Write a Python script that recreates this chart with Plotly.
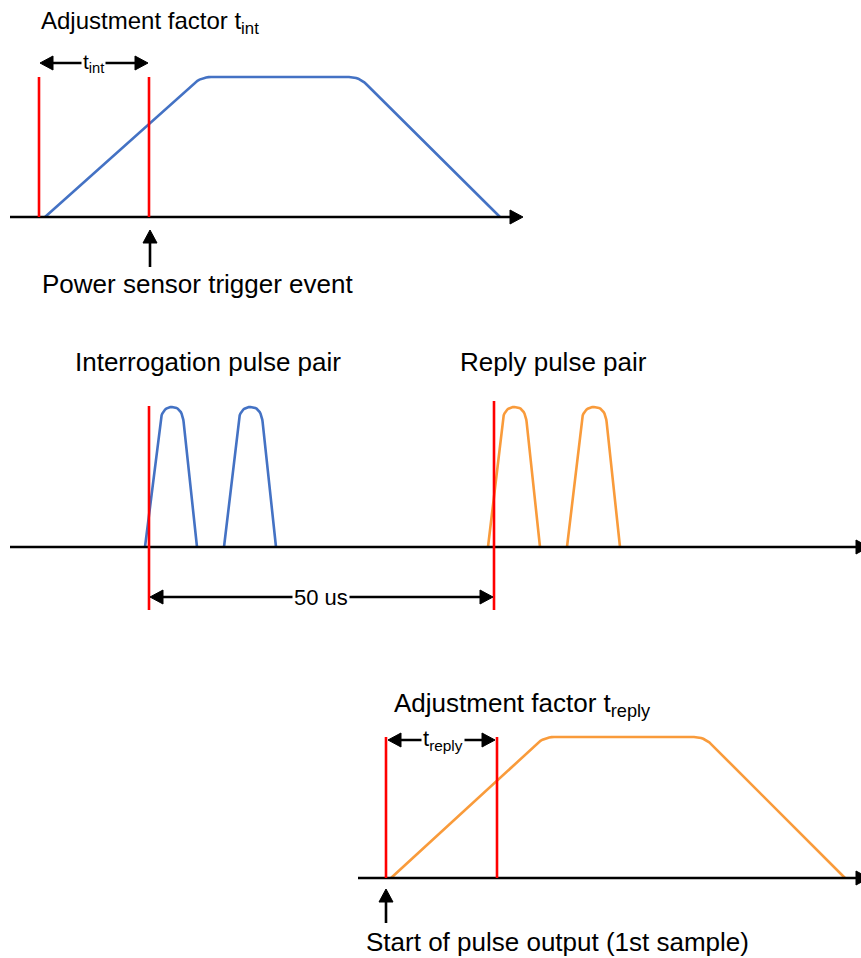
import plotly.graph_objects as go

FONT = "Liberation Sans, Arial, sans-serif"
BLUE = "#4472C4"
ORANGE = "#F99B3B"
RED = "#FF0000"
BLACK = "#000000"
WIN_W, WIN_H = 861, 958

# ---------------- data (diagram space: x to the right, y downwards) ----------------
# time axes
axis_x0 = [10, 10, 358]
axis_x1 = [523, 869, 869]
axis_y = [217, 547, 878]

# red reference markers
marker_x = [39, 149, 149, 494, 386, 497]
marker_y0 = [77, 77, 406, 401, 737, 737]
marker_y1 = [217, 217, 610, 610, 878, 878]

# measurement windows (trapezoids): base-left, top-left, top-right, base-right
ramp_names = ["t_int window", "t_reply window"]
ramp_base_left = [45, 391]
ramp_top_left = [201, 544]
ramp_top_right = [359, 704]
ramp_base_right = [500, 845]
ramp_base_y = [217, 878]
ramp_top_y = [77, 737]
ramp_colors = [BLUE, ORANGE]

# pulses: base-left, top-left, top-right, base-right
pulse_names = ["Interrogation 1", "Interrogation 2", "Reply 1", "Reply 2"]
pulse_base_left = [145, 224, 488, 567]
pulse_top_left = [162, 240, 504, 583]
pulse_top_right = [182, 261, 525, 605]
pulse_base_right = [197, 276, 540, 620]
pulse_base_y = [547, 547, 547, 547]
pulse_top_y = [407, 407, 407, 407]
pulse_colors = [BLUE, BLUE, ORANGE, ORANGE]

# dimension (double-headed) arrows
dim_x0 = [40, 150, 388]
dim_x1 = [148, 493, 495]
dim_y = [63, 597, 740]
dim_labels = ["t<sub>int</sub>", "50 us", "t<sub>reply</sub>"]
dim_label_x = [93, 321, 443]
dim_label_size = [21, 22, 22]

# event arrows (pointing up)
up_x = [150, 386]
up_tip_y = [230, 889]
up_tail_y = [267, 923]

# text labels
label_text = [
    "Adjustment factor t<sub>int</sub>",
    "Power sensor trigger event",
    "Interrogation pulse pair",
    "Reply pulse pair",
    "Adjustment factor t<sub>reply</sub>",
    "Start of pulse output (1st sample)",
]
label_x = [39, 40, 73, 458, 392, 364]
label_y = [22, 284, 362, 362, 704, 942]
label_size = [24, 26, 26, 26, 26, 26]

# ---------------- helpers (styling only) ----------------
HEAD_LEN = 13
HEAD_HALF = 7
LW = 2.6


def rounded_path(pts, radius, n=8):
    """Polyline through pts with the interior corners rounded."""
    xs, ys = [pts[0][0]], [pts[0][1]]
    for i in range(1, len(pts) - 1):
        (ax, ay), (px, py), (bx, by) = pts[i - 1], pts[i], pts[i + 1]
        la = ((px - ax) ** 2 + (py - ay) ** 2) ** 0.5
        lb = ((bx - px) ** 2 + (by - py) ** 2) ** 0.5
        r1 = min(radius, la / 2)
        r2 = min(radius, lb / 2)
        sx, sy = px - (px - ax) / la * r1, py - (py - ay) / la * r1
        ex, ey = px + (bx - px) / lb * r2, py + (by - py) / lb * r2
        for k in range(n + 1):
            t = k / n
            xs.append((1 - t) ** 2 * sx + 2 * (1 - t) * t * px + t ** 2 * ex)
            ys.append((1 - t) ** 2 * sy + 2 * (1 - t) * t * py + t ** 2 * ey)
    xs.append(pts[-1][0])
    ys.append(pts[-1][1])
    return xs, ys


def head(tx, ty, direction):
    if direction == "right":
        return [tx, tx - HEAD_LEN, tx - HEAD_LEN, tx], [ty, ty - HEAD_HALF, ty + HEAD_HALF, ty]
    if direction == "left":
        return [tx, tx + HEAD_LEN, tx + HEAD_LEN, tx], [ty, ty - HEAD_HALF, ty + HEAD_HALF, ty]
    return [tx, tx - HEAD_HALF, tx + HEAD_HALF, tx], [ty, ty + HEAD_LEN, ty + HEAD_LEN, ty]


fig = go.Figure()


def line(xs, ys, color, width=LW, name=""):
    fig.add_trace(go.Scatter(x=xs, y=ys, mode="lines", name=name,
                             line=dict(color=color, width=width),
                             hoverinfo="skip"))


def filled(xs, ys, color=BLACK):
    fig.add_trace(go.Scatter(x=xs, y=ys, mode="lines", fill="toself",
                             fillcolor=color, line=dict(color=color, width=1),
                             hoverinfo="skip"))


# windows
for i in range(len(ramp_names)):
    pts = [(ramp_base_left[i], ramp_base_y[i]), (ramp_top_left[i], ramp_top_y[i]),
           (ramp_top_right[i], ramp_top_y[i]), (ramp_base_right[i], ramp_base_y[i])]
    xs, ys = rounded_path(pts, 10)
    line(xs, ys, ramp_colors[i], name=ramp_names[i])

# pulses
for i in range(len(pulse_names)):
    pts = [(pulse_base_left[i], pulse_base_y[i]), (pulse_top_left[i], pulse_top_y[i]),
           (pulse_top_right[i], pulse_top_y[i]), (pulse_base_right[i], pulse_base_y[i])]
    xs, ys = rounded_path(pts, 15, n=12)
    line(xs, ys, pulse_colors[i], name=pulse_names[i])

# time axes
for i in range(len(axis_y)):
    line([axis_x0[i], axis_x1[i] - HEAD_LEN + 1], [axis_y[i], axis_y[i]], BLACK)
    hx, hy = head(axis_x1[i], axis_y[i], "right")
    filled(hx, hy)

# red markers
for i in range(len(marker_x)):
    line([marker_x[i], marker_x[i]], [marker_y0[i], marker_y1[i]], RED, width=2.6)

# dimension arrows
for i in range(len(dim_y)):
    line([dim_x0[i] + HEAD_LEN - 1, dim_x1[i] - HEAD_LEN + 1], [dim_y[i], dim_y[i]], BLACK, width=2.4)
    hx, hy = head(dim_x0[i], dim_y[i], "left")
    filled(hx, hy)
    hx, hy = head(dim_x1[i], dim_y[i], "right")
    filled(hx, hy)
    fig.add_annotation(x=dim_label_x[i], y=dim_y[i], text=dim_labels[i], showarrow=False,
                       xanchor="center", yanchor="middle", bgcolor="white", borderpad=1,
                       font=dict(family=FONT, size=dim_label_size[i], color=BLACK))

# event arrows
for i in range(len(up_x)):
    line([up_x[i], up_x[i]], [up_tip_y[i] + HEAD_LEN - 1, up_tail_y[i]], BLACK, width=2.6)
    hx, hy = head(up_x[i], up_tip_y[i], "up")
    filled(hx, hy)

# labels
for i in range(len(label_text)):
    fig.add_annotation(x=label_x[i], y=label_y[i], text=label_text[i], showarrow=False,
                       xanchor="left", yanchor="middle",
                       font=dict(family=FONT, size=label_size[i], color=BLACK))

fig.update_layout(
    width=WIN_W, height=WIN_H,
    margin=dict(l=0, r=0, t=0, b=0),
    paper_bgcolor="white", plot_bgcolor="white",
    showlegend=False,
    hovermode=False,
    xaxis=dict(range=[0, WIN_W], visible=False, fixedrange=True),
    yaxis=dict(range=[WIN_H, 0], visible=False, fixedrange=True),
)

# place the figure flush with the window (no default page margin)
fig.write_html("out.html",
               config={"displayModeBar": False, "staticPlot": True},
               post_script="document.body.style.margin='0px';document.body.style.overflow='hidden';")
